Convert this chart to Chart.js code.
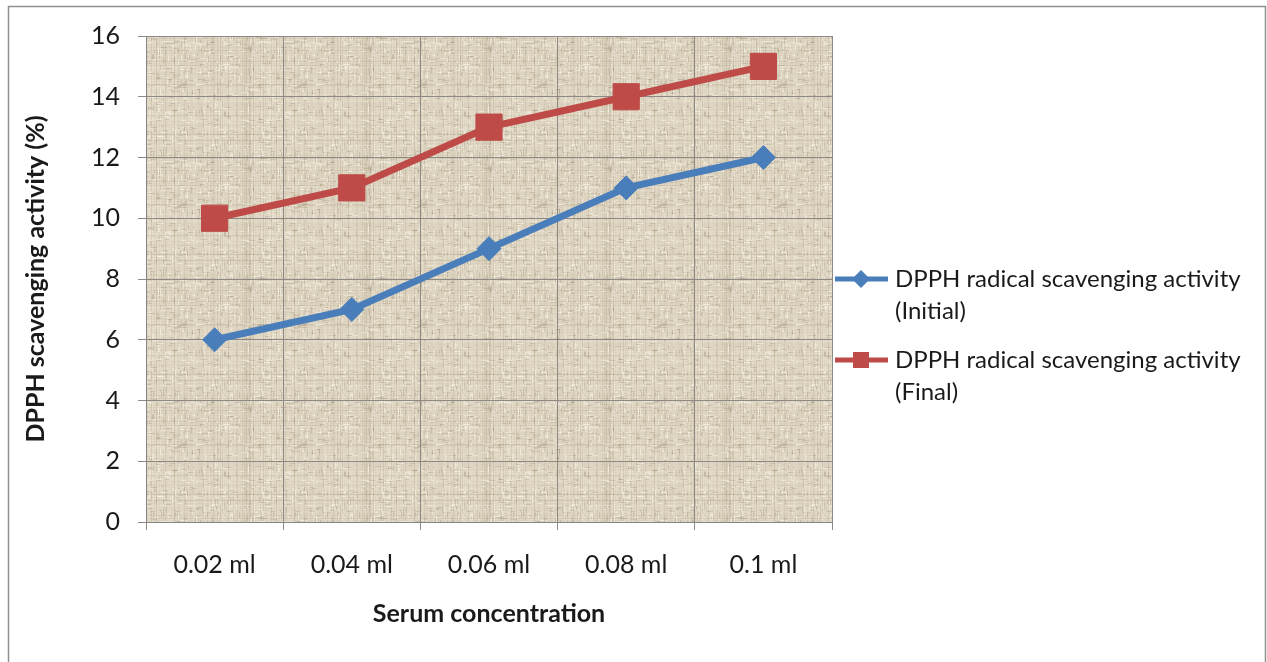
<!DOCTYPE html>
<html>
<head>
<meta charset="utf-8">
<script src="https://cdn.jsdelivr.net/npm/chart.js@4.4.1/dist/chart.umd.min.js"></script>
<style>
  html, body { margin: 0; padding: 0; background: #ffffff; }
  #wrap { width: 1267px; height: 662px; position: relative; }
  canvas { display: block; }
</style>
</head>
<body>
<div id="wrap"><canvas id="c" width="1267" height="662"></canvas></div>
<script>
// Serum concentration levels and DPPH scavenging activity (%)
const categories = ['0.02 ml', '0.04 ml', '0.06 ml', '0.08 ml', '0.1 ml'];
const initialValues = [6, 7, 9, 11, 12];
const finalValues = [10, 11, 13, 14, 15];
const seriesNames = [
  ['DPPH radical scavenging activity', '(Initial)'],
  ['DPPH radical scavenging activity', '(Final)']
];
const yTicks = { min: 0, max: 16, step: 2 };

const FONT = 'Lato, "Open Sans", sans-serif';
const BLUE = '#4A7EBB';
const RED = '#BE4B48';
const GRID = '#8d8984';

// Woven burlap-like fill for the plot area (deterministic hash noise)
function hash(n) {
  const s = Math.sin(n * 127.1 + 311.7) * 43758.5453;
  return s - Math.floor(s);
}
function makeTexture() {
  const size = 120;
  const t = document.createElement('canvas');
  t.width = size; t.height = size;
  const g = t.getContext('2d');
  g.fillStyle = '#e8e0ce';
  g.fillRect(0, 0, size, size);
  // warp and weft threads
  for (let i = 0; i < size; i++) {
    const strong = hash(i + 77) > 0.7;
    const a = hash(i) * (strong ? 0.28 : 0.12);
    g.fillStyle = 'rgba(150,132,104,' + a.toFixed(3) + ')';
    g.fillRect(i, 0, 1, size);
    const strongH = hash(i + 877) > 0.7;
    const b = hash(i + 500) * (strongH ? 0.26 : 0.1);
    g.fillStyle = 'rgba(150,132,104,' + b.toFixed(3) + ')';
    g.fillRect(0, i, size, 1);
  }
  // short broken thread segments and light slubs
  for (let k = 0; k < 700; k++) {
    const x = Math.floor(hash(k * 3 + 1000) * size);
    const y = Math.floor(hash(k * 3 + 2000) * size);
    const light = hash(k * 3 + 3000) > 0.5;
    const vertical = hash(k + 6000) > 0.5;
    const len = 2 + Math.floor(hash(k + 7000) * 6);
    g.fillStyle = light ? 'rgba(248,244,233,0.55)' : 'rgba(125,108,84,0.2)';
    if (vertical) g.fillRect(x, y, 1, len); else g.fillRect(x, y, len, 1);
  }
  return t;
}

const plotBackground = {
  id: 'plotBackground',
  beforeDraw(chart) {
    const { ctx, chartArea: a } = chart;
    ctx.save();
    ctx.fillStyle = ctx.createPattern(makeTexture(), 'repeat');
    ctx.fillRect(a.left, a.top, a.right - a.left, a.bottom - a.top);
    ctx.restore();
  }
};

const frameAndLegend = {
  id: 'frameAndLegend',
  afterDraw(chart) {
    const { ctx, chartArea: a } = chart;
    ctx.save();
    // outer frame
    ctx.strokeStyle = '#8f8f8f';
    ctx.lineWidth = 1.5;
    ctx.strokeRect(8.5, 6.5, 1257, 660);

    // legend
    const entries = [
      { color: BLUE, shape: 'diamond', y: 279, lines: seriesNames[0] },
      { color: RED, shape: 'square', y: 360, lines: seriesNames[1] }
    ];
    const x0 = a.right + 3, x1 = a.right + 56, xm = a.right + 29, tx = a.right + 63;
    ctx.font = '24px ' + FONT;
    ctx.textBaseline = 'middle';
    ctx.textAlign = 'left';
    entries.forEach(e => {
      ctx.strokeStyle = e.color;
      ctx.lineWidth = 5;
      ctx.beginPath();
      ctx.moveTo(x0, e.y); ctx.lineTo(x1, e.y);
      ctx.stroke();
      ctx.fillStyle = e.color;
      ctx.beginPath();
      if (e.shape === 'diamond') {
        ctx.moveTo(xm, e.y - 9); ctx.lineTo(xm + 9, e.y);
        ctx.lineTo(xm, e.y + 9); ctx.lineTo(xm - 9, e.y);
        ctx.closePath();
      } else {
        ctx.rect(xm - 8, e.y - 8, 16, 16);
      }
      ctx.fill();
      ctx.fillStyle = '#1a1a1a';
      ctx.fillText(e.lines[0], tx, e.y);
      ctx.fillText(e.lines[1], tx, e.y + 32);
    });
    ctx.restore();
  }
};

const PAD = { left: 17, right: 435, top: 36, bottom: 29 };
const PLOT_LEFT = 146, PLOT_BOTTOM = 522, H = 662;

new Chart(document.getElementById('c'), {
  type: 'line',
  data: {
    labels: categories,
    datasets: [
      {
        label: seriesNames[0].join(' '),
        data: initialValues,
        borderColor: BLUE,
        backgroundColor: BLUE,
        borderWidth: 7,
        pointStyle: 'rectRot',
        pointRadius: 12,
        pointBorderWidth: 1,
        tension: 0
      },
      {
        label: seriesNames[1].join(' '),
        data: finalValues,
        borderColor: RED,
        backgroundColor: RED,
        borderWidth: 7,
        pointStyle: 'rect',
        pointRadius: 18.5,
        pointBorderWidth: 1,
        tension: 0
      }
    ]
  },
  options: {
    responsive: false,
    animation: false,
    events: [],
    layout: { padding: PAD },
    plugins: { legend: { display: false }, tooltip: { enabled: false } },
    scales: {
      x: {
        type: 'category',
        offset: true,
        grid: { offset: true, color: GRID, lineWidth: 1, tickLength: 8, tickColor: GRID },
        border: { color: '#858585', width: 1 },
        ticks: { color: '#1a1a1a', padding: 20, font: { family: FONT, size: 25 } },
        title: {
          display: true,
          text: 'Serum concentration',
          color: '#1a1a1a',
          font: { family: FONT, size: 25, weight: 'bold' }
        },
        afterFit(scale) { scale.height = H - PAD.bottom - PLOT_BOTTOM; }
      },
      y: {
        min: yTicks.min,
        max: yTicks.max,
        ticks: {
          stepSize: yTicks.step,
          color: '#1a1a1a',
          padding: 18,
          font: { family: FONT, size: 25 }
        },
        grid: { color: GRID, lineWidth: 1, tickLength: 8, tickColor: GRID },
        border: { color: '#858585', width: 1 },
        title: {
          display: true,
          text: 'DPPH scavenging activity (%)',
          color: '#1a1a1a',
          font: { family: FONT, size: 25, weight: 'bold' }
        },
        afterFit(scale) { scale.width = PLOT_LEFT - PAD.left; }
      }
    }
  },
  plugins: [plotBackground, frameAndLegend]
});
</script>
</body>
</html>
